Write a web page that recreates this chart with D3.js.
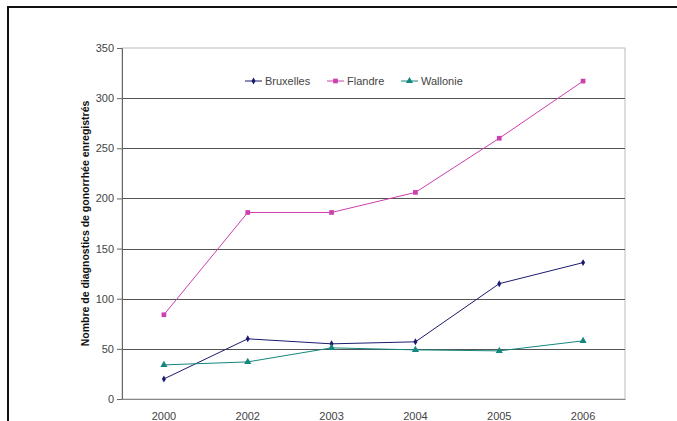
<!DOCTYPE html>
<html>
<head>
<meta charset="utf-8">
<script src="https://cdn.jsdelivr.net/npm/d3@7"></script>
<style>
  body { margin: 0; background: #fff; }
  text { font-family: "Liberation Sans", Arial, sans-serif; }
</style>
</head>
<body>
<div id="chart"></div>
<script>
var years = ['2000', '2002', '2003', '2004', '2005', '2006'];
var bruxelles = [20, 60, 55, 57, 115, 136];
var flandre = [84, 186, 186, 206, 260, 317];
var wallonie = [34, 37, 51, 49, 48, 58];
var seriesNames = ['Bruxelles', 'Flandre', 'Wallonie'];
var yTicks = [0, 50, 100, 150, 200, 250, 300, 350];

var W = 677, H = 421;
var margin = {top: 48, right: 52, bottom: 22, left: 122};
var width = W - margin.left - margin.right,
    height = H - margin.top - margin.bottom;

var series = [
  {name: seriesNames[0], values: bruxelles, color: '#1c1a6e', shape: d3.symbolDiamond, size: 14},
  {name: seriesNames[1], values: flandre, color: '#cc3fae', shape: d3.symbolSquare, size: 22},
  {name: seriesNames[2], values: wallonie, color: '#13877e', shape: d3.symbolTriangle, size: 22}
];

var svg = d3.select('#chart').append('svg')
  .attr('width', W)
  .attr('height', H);

// outer frame (runs off the right and bottom edge)
svg.append('rect')
  .attr('x', 8).attr('y', 7)
  .attr('width', W + 20).attr('height', H + 20)
  .style('fill', 'none')
  .style('stroke', '#111')
  .style('stroke-width', 2);

var g = svg.append('g')
  .attr('transform', 'translate(' + margin.left + ',' + margin.top + ')');

var xScale = d3.scaleBand()
  .domain(years)
  .range([0, width]);

var yScale = d3.scaleLinear()
  .domain([0, 350])
  .range([height, 0]);

// plot box
g.append('rect')
  .attr('width', width).attr('height', height)
  .style('fill', 'none')
  .style('stroke', '#bbb');

// gridlines
g.selectAll('.grid').data(yTicks.filter(function(d){ return d > 0 && d < 350; }))
  .enter().append('line')
  .attr('x1', 0).attr('x2', width)
  .attr('y1', function(d){ return Math.round(yScale(d)) + 0.5; })
  .attr('y2', function(d){ return Math.round(yScale(d)) + 0.5; })
  .style('stroke', '#555');

var vAxis = d3.axisLeft(yScale)
  .tickValues(yTicks)
  .tickSize(5)
  .tickPadding(3);

var vGuide = g.append('g').call(vAxis);
vGuide.select('.domain').style('stroke', '#666');
vGuide.selectAll('line').style('stroke', '#666');
vGuide.selectAll('text')
  .style('font-size', '11px')
  .style('fill', '#444');

var hAxis = d3.axisBottom(xScale)
  .tickSize(0)
  .tickPadding(13);

var hGuide = g.append('g')
  .attr('transform', 'translate(0,' + height + ')')
  .call(hAxis);
hGuide.select('.domain').style('stroke', '#888');
hGuide.selectAll('text')
  .style('font-size', '11px')
  .style('fill', '#444');

// axis title
svg.append('text')
  .attr('transform', 'translate(89,' + (margin.top + height / 2) + ') rotate(-90)')
  .attr('text-anchor', 'middle')
  .style('font-size', '10.5px')
  .style('font-weight', 'bold')
  .style('fill', '#111')
  .text('Nombre de diagnostics de gonorrhée enregistrés');

var line = d3.line()
  .x(function(d, i){ return xScale(years[i]) + xScale.bandwidth() / 2; })
  .y(function(d){ return yScale(d); });

series.forEach(function(s) {
  g.append('path')
    .datum(s.values)
    .attr('d', line)
    .style('fill', 'none')
    .style('stroke', s.color)
    .style('stroke-width', 1);

  g.selectAll(null).data(s.values)
    .enter().append('path')
    .attr('d', d3.symbol().type(s.shape).size(s.size))
    .attr('transform', function(d, i){
      return 'translate(' + (xScale(years[i]) + xScale.bandwidth() / 2) + ',' + yScale(d) + ')';
    })
    .style('fill', s.color);
});

// legend
var legendX = [245, 327, 401];
var legendY = 81;
var legend = svg.selectAll('.legend').data(series)
  .enter().append('g')
  .attr('transform', function(d, i){ return 'translate(' + legendX[i] + ',' + legendY + ')'; });

legend.append('line')
  .attr('x1', 0).attr('x2', 17)
  .style('stroke', function(d){ return d.color; });
legend.append('path')
  .attr('d', function(d){ return d3.symbol().type(d.shape).size(d.size)(); })
  .attr('transform', 'translate(8.5,0)')
  .style('fill', function(d){ return d.color; });
legend.append('text')
  .attr('x', 20)
  .attr('dy', '0.35em')
  .style('font-size', '11px')
  .style('fill', '#444')
  .text(function(d){ return d.name; });
</script>
</body>
</html>
